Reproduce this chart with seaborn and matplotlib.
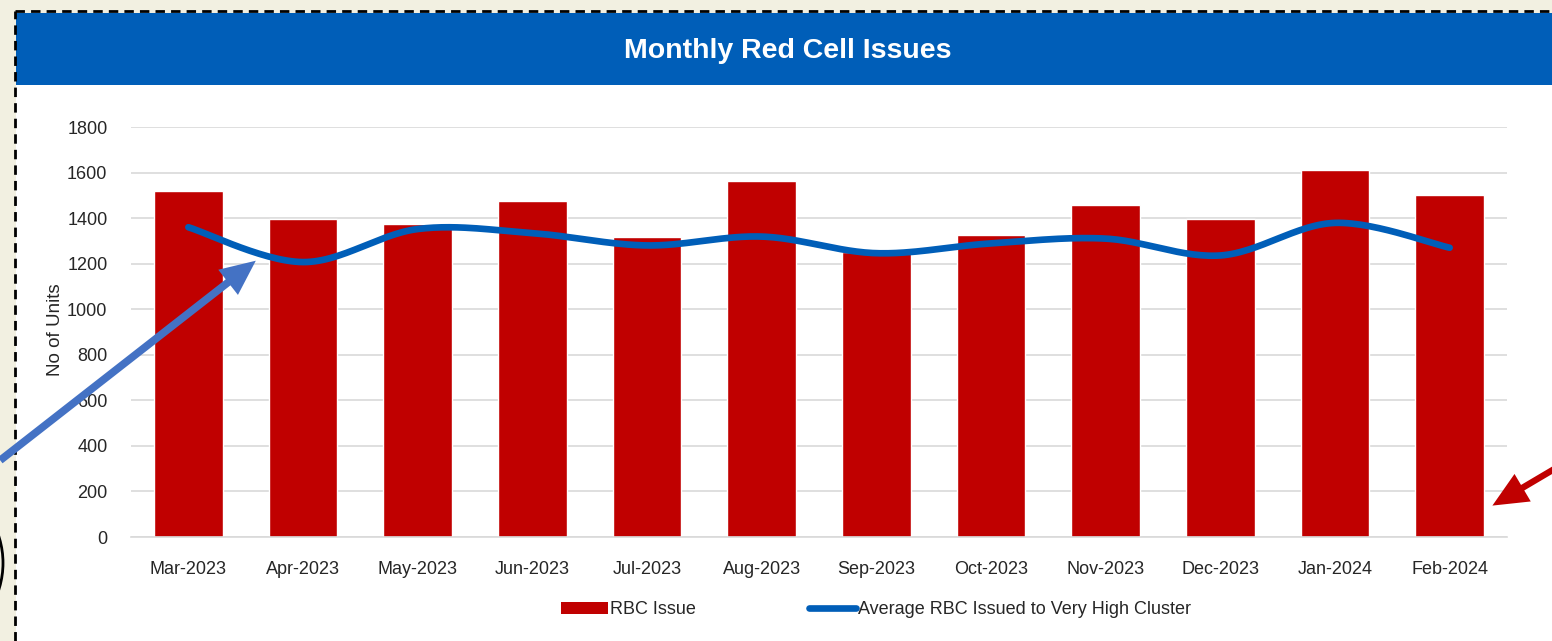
import numpy as np
import pandas as pd
import seaborn as sns
import matplotlib
matplotlib.use("Agg")
import matplotlib.pyplot as plt
from matplotlib.patches import Rectangle, Patch, FancyArrowPatch, Arc
from matplotlib.lines import Line2D

months = ["Mar-2023", "Apr-2023", "May-2023", "Jun-2023", "Jul-2023", "Aug-2023",
          "Sep-2023", "Oct-2023", "Nov-2023", "Dec-2023", "Jan-2024", "Feb-2024"]
rbc_issue = [1517, 1397, 1375, 1476, 1319, 1561, 1252, 1328, 1459, 1397, 1613, 1502]
avg_very_high = [1360, 1207, 1352, 1334, 1280, 1319, 1246, 1289, 1310, 1236, 1379, 1270]
yticks = [0, 200, 400, 600, 800, 1000, 1200, 1400, 1600, 1800]

RED = "#C00000"
BLUE = "#005EB8"
ARROW_BLUE = "#4472C4"
BEIGE = "#F2F0E1"

W, H = 1552, 641


def fx(px):
    return px / W


def fy(py):
    return 1 - py / H


def smooth(xs, ys, steps=30):
    # catmull-rom, close to excel's "smoothed line"
    px = np.r_[xs[0], xs, xs[-1]].astype(float)
    py = np.r_[ys[0], ys, ys[-1]].astype(float)
    t = np.linspace(0, 1, steps)
    outx, outy = [], []
    for i in range(1, len(px) - 2):
        for p, out in ((px, outx), (py, outy)):
            p0, p1, p2, p3 = p[i - 1], p[i], p[i + 1], p[i + 2]
            out.extend(0.5 * (2 * p1 + (-p0 + p2) * t
                              + (2 * p0 - 5 * p1 + 4 * p2 - p3) * t ** 2
                              + (-p0 + 3 * p1 - 3 * p2 + p3) * t ** 3))
    return np.array(outx), np.array(outy)


sns.set_theme(style="white")
plt.rcParams["font.family"] = ["Liberation Sans", "DejaVu Sans"]

fig = plt.figure(figsize=(W / 100, H / 100), dpi=100)
fig.patch.set_facecolor(BEIGE)

# white panel, blue header, dashed border
fig.add_artist(Rectangle((fx(16), 0), 1 - fx(16), fy(13), transform=fig.transFigure,
                         facecolor="white", edgecolor="none", zorder=0))
fig.add_artist(Rectangle((fx(16), fy(85)), 1 - fx(16), fy(13) - fy(85), transform=fig.transFigure,
                         facecolor=BLUE, edgecolor="none", zorder=1))
fig.add_artist(Line2D([fx(15), fx(15)], [0, fy(11)], transform=fig.transFigure,
                      color="black", lw=2, dashes=(3.4, 2.2)))
fig.add_artist(Line2D([fx(15), 1], [fy(11), fy(11)], transform=fig.transFigure,
                      color="black", lw=2, dashes=(3.4, 2.2)))
fig.text(fx(788), fy(51), "Monthly Red Cell Issues", color="white", ha="center", va="center",
         fontsize=20.5, fontweight="bold")

ax = fig.add_axes([fx(131), fy(537), fx(1507) - fx(131), fy(127) - fy(537)])
ax.set_facecolor("none")

df = pd.DataFrame({"Month": months, "RBC Issue": rbc_issue})
sns.barplot(data=df, x="Month", y="RBC Issue", color=RED, width=0.6, saturation=1, ax=ax, zorder=2)

sx, sy = smooth(np.arange(len(months)), avg_very_high)
ax.plot(sx, sy, color=BLUE, lw=4.8, solid_capstyle="round", zorder=3)

ax.set_xlim(-0.5, len(months) - 0.5)
ax.set_ylim(0, 1800)
ax.set_yticks(yticks)
ax.yaxis.grid(True, color="#D9D9D9", lw=1.2)
ax.set_axisbelow(True)
for s in ["top", "right", "left"]:
    ax.spines[s].set_visible(False)
ax.spines["bottom"].set_color("#D9D9D9")
ax.spines["bottom"].set_linewidth(1.2)
ax.tick_params(axis="both", length=0, labelsize=13, labelcolor="#262626")
ax.tick_params(axis="x", pad=17)
ax.tick_params(axis="y", pad=17)
ax.set_xlabel("")
ax.set_ylabel("No of Units", fontsize=13.5, color="#262626")
ax.yaxis.set_label_coords(-0.0487, 0.505)

handles = [Patch(facecolor=RED, edgecolor="none"),
           Line2D([0], [0], color=BLUE, lw=4.8)]
fig.legend(handles, ["RBC Issue", "Average RBC Issued to Very High Cluster"],
           loc="center", bbox_to_anchor=(fx(876), fy(610)), ncol=2, frameon=False,
           fontsize=13, handlelength=2.6, handleheight=0.6, handletextpad=0.1,
           columnspacing=6.3, labelcolor="#262626")

# annotation arrows (solid filled shapes)
fig.add_artist(FancyArrowPatch((fx(-2), fy(462)), (fx(258), fy(259)), transform=fig.transFigure,
                               arrowstyle="simple,head_length=1.1,head_width=1.0,tail_width=0.24",
                               mutation_scale=23, color=ARROW_BLUE, lw=0, zorder=5))
fig.add_artist(FancyArrowPatch((fx(1556), fy(468)), (fx(1490), fy(507)), transform=fig.transFigure,
                               arrowstyle="simple,head_length=1.1,head_width=1.0,tail_width=0.2",
                               mutation_scale=23, color=RED, lw=0, zorder=5))
fig.add_artist(Arc((fx(-150), fy(563)), fx(306), 230 / H, theta1=-40, theta2=40,
                   transform=fig.transFigure, color="black", lw=2))

fig.savefig("out.png", dpi=100, facecolor=fig.get_facecolor())
